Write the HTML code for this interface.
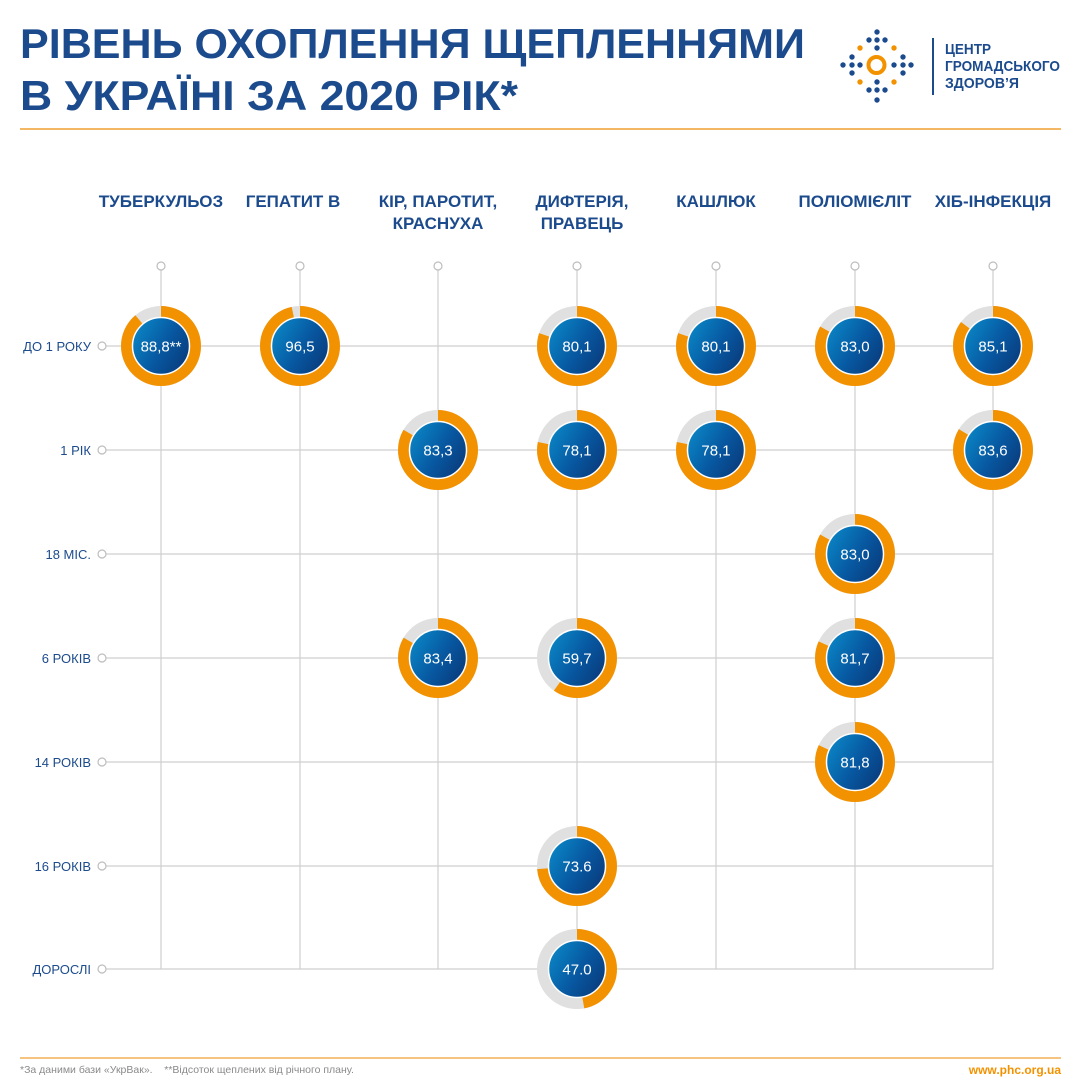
<!DOCTYPE html>
<html><head><meta charset="utf-8"><style>
body{margin:0;background:#fff;}
svg{display:block;font-family:"Liberation Sans","DejaVu Sans",sans-serif;}
</style></head><body>
<svg width="1081" height="1081" viewBox="0 0 1081 1081" xmlns="http://www.w3.org/2000/svg">
<defs>
<linearGradient id="g" x1="0" y1="0.2" x2="1" y2="0.8">
<stop offset="0" stop-color="#0a86c6"/><stop offset="0.55" stop-color="#0757a0"/><stop offset="1" stop-color="#0a3a7a"/>
</linearGradient>
<g id="base">
<circle r="34" fill="none" stroke="#e0e0e0" stroke-width="12"/>
</g>
<g id="inner">
<circle r="28.5" fill="url(#g)" stroke="#fff" stroke-width="1.5"/>
</g>
</defs>
<rect width="1081" height="1081" fill="#fff"/>
<g fill="#1c4b8d" font-weight="bold" font-size="42">
<text x="20" y="58" textLength="785" lengthAdjust="spacingAndGlyphs">РІВЕНЬ ОХОПЛЕННЯ ЩЕПЛЕННЯМИ</text>
<text x="20" y="110" textLength="498" lengthAdjust="spacingAndGlyphs">В УКРАЇНІ ЗА 2020 РІК*</text>
</g>
<line x1="20" y1="129" x2="1061" y2="129" stroke="#f0a030" stroke-width="1.5"/>
<g transform="translate(830,20)">
<circle cx="46.5" cy="45" r="8" fill="none" stroke="#f39200" stroke-width="4"/>
<g fill="#1c4b8d">
<circle cx="47" cy="12" r="2.7"/>
<circle cx="39" cy="20" r="2.7"/><circle cx="47" cy="20" r="2.7"/><circle cx="55" cy="20" r="2.7"/>
<circle cx="47" cy="28" r="2.7"/>
<circle cx="22" cy="37" r="2.7"/><circle cx="73" cy="37" r="2.7"/>
<circle cx="13" cy="45" r="2.7"/><circle cx="22" cy="45" r="2.7"/><circle cx="30" cy="45" r="2.7"/>
<circle cx="64" cy="45" r="2.7"/><circle cx="73" cy="45" r="2.7"/><circle cx="81" cy="45" r="2.7"/>
<circle cx="22" cy="53" r="2.7"/><circle cx="73" cy="53" r="2.7"/>
<circle cx="47" cy="62" r="2.7"/>
<circle cx="39" cy="70" r="2.7"/><circle cx="47" cy="70" r="2.7"/><circle cx="55" cy="70" r="2.7"/>
<circle cx="47" cy="80" r="2.7"/>
</g>
<g fill="#f39200">
<circle cx="30" cy="28" r="2.7"/><circle cx="64" cy="28" r="2.7"/>
<circle cx="30" cy="62" r="2.7"/><circle cx="64" cy="62" r="2.7"/>
</g>
<line x1="103" y1="18" x2="103" y2="75" stroke="#1c4b8d" stroke-width="2"/>
<g fill="#1c4b8d" font-weight="bold" font-size="15">
<text x="115" y="34" textLength="46" lengthAdjust="spacingAndGlyphs">ЦЕНТР</text>
<text x="115" y="51" textLength="115" lengthAdjust="spacingAndGlyphs">ГРОМАДСЬКОГО</text>
<text x="115" y="68" textLength="74" lengthAdjust="spacingAndGlyphs">ЗДОРОВ’Я</text>
</g>
</g>
<g fill="#1c4b8d" font-weight="bold" font-size="17" text-anchor="middle">
<text x="161" y="207">ТУБЕРКУЛЬОЗ</text>
<text x="293" y="207">ГЕПАТИТ В</text>
<text x="438" y="207">КІР, ПАРОТИТ,</text>
<text x="438" y="229">КРАСНУХА</text>
<text x="582" y="207">ДИФТЕРІЯ,</text>
<text x="582" y="229">ПРАВЕЦЬ</text>
<text x="716" y="207">КАШЛЮК</text>
<text x="855" y="207">ПОЛІОМІЄЛІТ</text>
<text x="993" y="207">ХІБ-ІНФЕКЦІЯ</text>
</g>
<g stroke="#cfcfcf" stroke-width="1.2" fill="none">
<line x1="161" y1="270" x2="161" y2="969"/><line x1="300" y1="270" x2="300" y2="969"/>
<line x1="438" y1="270" x2="438" y2="969"/><line x1="577" y1="270" x2="577" y2="969"/>
<line x1="716" y1="270" x2="716" y2="969"/><line x1="855" y1="270" x2="855" y2="969"/>
<line x1="993" y1="270" x2="993" y2="969"/>
<line x1="106" y1="346" x2="993" y2="346"/><line x1="106" y1="450" x2="993" y2="450"/>
<line x1="106" y1="554" x2="993" y2="554"/><line x1="106" y1="658" x2="993" y2="658"/>
<line x1="106" y1="762" x2="993" y2="762"/><line x1="106" y1="866" x2="993" y2="866"/>
<line x1="106" y1="969" x2="993" y2="969"/>
</g>
<g stroke="#bdbdbd" stroke-width="1.2" fill="#fff">
<circle cx="161" cy="266" r="4"/><circle cx="300" cy="266" r="4"/><circle cx="438" cy="266" r="4"/>
<circle cx="577" cy="266" r="4"/><circle cx="716" cy="266" r="4"/><circle cx="855" cy="266" r="4"/>
<circle cx="993" cy="266" r="4"/>
<circle cx="102" cy="346" r="4"/><circle cx="102" cy="450" r="4"/><circle cx="102" cy="554" r="4"/>
<circle cx="102" cy="658" r="4"/><circle cx="102" cy="762" r="4"/><circle cx="102" cy="866" r="4"/>
<circle cx="102" cy="969" r="4"/>
</g>
<g fill="#1c4b8d" font-size="13" text-anchor="end">
<text x="91" y="351">ДО 1 РОКУ</text><text x="91" y="455">1 РІК</text>
<text x="91" y="559">18 МІС.</text><text x="91" y="663">6 РОКІВ</text>
<text x="91" y="767">14 РОКІВ</text><text x="91" y="871">16 РОКІВ</text>
<text x="91" y="974">ДОРОСЛІ</text>
</g>
<g font-size="15" text-anchor="middle" fill="#fff">
<g transform="translate(161,346)"><use href="#base"/><circle r="34" fill="none" stroke="#f39200" stroke-width="12" stroke-dasharray="189.70 23.93" transform="rotate(-90)"/><use href="#inner"/><text y="5.5">88,8**</text></g>
<g transform="translate(300,346)"><use href="#base"/><circle r="34" fill="none" stroke="#f39200" stroke-width="12" stroke-dasharray="206.15 7.48" transform="rotate(-90)"/><use href="#inner"/><text y="5.5">96,5</text></g>
<g transform="translate(577,346)"><use href="#base"/><circle r="34" fill="none" stroke="#f39200" stroke-width="12" stroke-dasharray="171.12 42.51" transform="rotate(-90)"/><use href="#inner"/><text y="5.5">80,1</text></g>
<g transform="translate(716,346)"><use href="#base"/><circle r="34" fill="none" stroke="#f39200" stroke-width="12" stroke-dasharray="171.12 42.51" transform="rotate(-90)"/><use href="#inner"/><text y="5.5">80,1</text></g>
<g transform="translate(855,346)"><use href="#base"/><circle r="34" fill="none" stroke="#f39200" stroke-width="12" stroke-dasharray="177.31 36.32" transform="rotate(-90)"/><use href="#inner"/><text y="5.5">83,0</text></g>
<g transform="translate(993,346)"><use href="#base"/><circle r="34" fill="none" stroke="#f39200" stroke-width="12" stroke-dasharray="181.80 31.83" transform="rotate(-90)"/><use href="#inner"/><text y="5.5">85,1</text></g>
<g transform="translate(438,450)"><use href="#base"/><circle r="34" fill="none" stroke="#f39200" stroke-width="12" stroke-dasharray="177.95 35.68" transform="rotate(-90)"/><use href="#inner"/><text y="5.5">83,3</text></g>
<g transform="translate(577,450)"><use href="#base"/><circle r="34" fill="none" stroke="#f39200" stroke-width="12" stroke-dasharray="166.84 46.79" transform="rotate(-90)"/><use href="#inner"/><text y="5.5">78,1</text></g>
<g transform="translate(716,450)"><use href="#base"/><circle r="34" fill="none" stroke="#f39200" stroke-width="12" stroke-dasharray="166.84 46.79" transform="rotate(-90)"/><use href="#inner"/><text y="5.5">78,1</text></g>
<g transform="translate(993,450)"><use href="#base"/><circle r="34" fill="none" stroke="#f39200" stroke-width="12" stroke-dasharray="178.59 35.04" transform="rotate(-90)"/><use href="#inner"/><text y="5.5">83,6</text></g>
<g transform="translate(855,554)"><use href="#base"/><circle r="34" fill="none" stroke="#f39200" stroke-width="12" stroke-dasharray="177.31 36.32" transform="rotate(-90)"/><use href="#inner"/><text y="5.5">83,0</text></g>
<g transform="translate(438,658)"><use href="#base"/><circle r="34" fill="none" stroke="#f39200" stroke-width="12" stroke-dasharray="178.17 35.46" transform="rotate(-90)"/><use href="#inner"/><text y="5.5">83,4</text></g>
<g transform="translate(577,658)"><use href="#base"/><circle r="34" fill="none" stroke="#f39200" stroke-width="12" stroke-dasharray="127.54 86.09" transform="rotate(-90)"/><use href="#inner"/><text y="5.5">59,7</text></g>
<g transform="translate(855,658)"><use href="#base"/><circle r="34" fill="none" stroke="#f39200" stroke-width="12" stroke-dasharray="174.53 39.10" transform="rotate(-90)"/><use href="#inner"/><text y="5.5">81,7</text></g>
<g transform="translate(855,762)"><use href="#base"/><circle r="34" fill="none" stroke="#f39200" stroke-width="12" stroke-dasharray="174.75 38.88" transform="rotate(-90)"/><use href="#inner"/><text y="5.5">81,8</text></g>
<g transform="translate(577,866)"><use href="#base"/><circle r="34" fill="none" stroke="#f39200" stroke-width="12" stroke-dasharray="157.23 56.40" transform="rotate(-90)"/><use href="#inner"/><text y="5.5">73.6</text></g>
<g transform="translate(577,969)"><use href="#base"/><circle r="34" fill="none" stroke="#f39200" stroke-width="12" stroke-dasharray="100.41 113.22" transform="rotate(-90)"/><use href="#inner"/><text y="5.5">47.0</text></g>
</g>
<line x1="20" y1="1058" x2="1061" y2="1058" stroke="#f0a030" stroke-width="1.2"/>
<text x="20" y="1073" font-size="10.5" fill="#8a8a8a" xml:space="preserve">*За даними бази «УкрВак».    **Відсоток щеплених від річного плану.</text>
<text x="1061" y="1074" font-size="12" font-weight="bold" fill="#f39200" text-anchor="end">www.phc.org.ua</text>
</svg>
</body></html>
